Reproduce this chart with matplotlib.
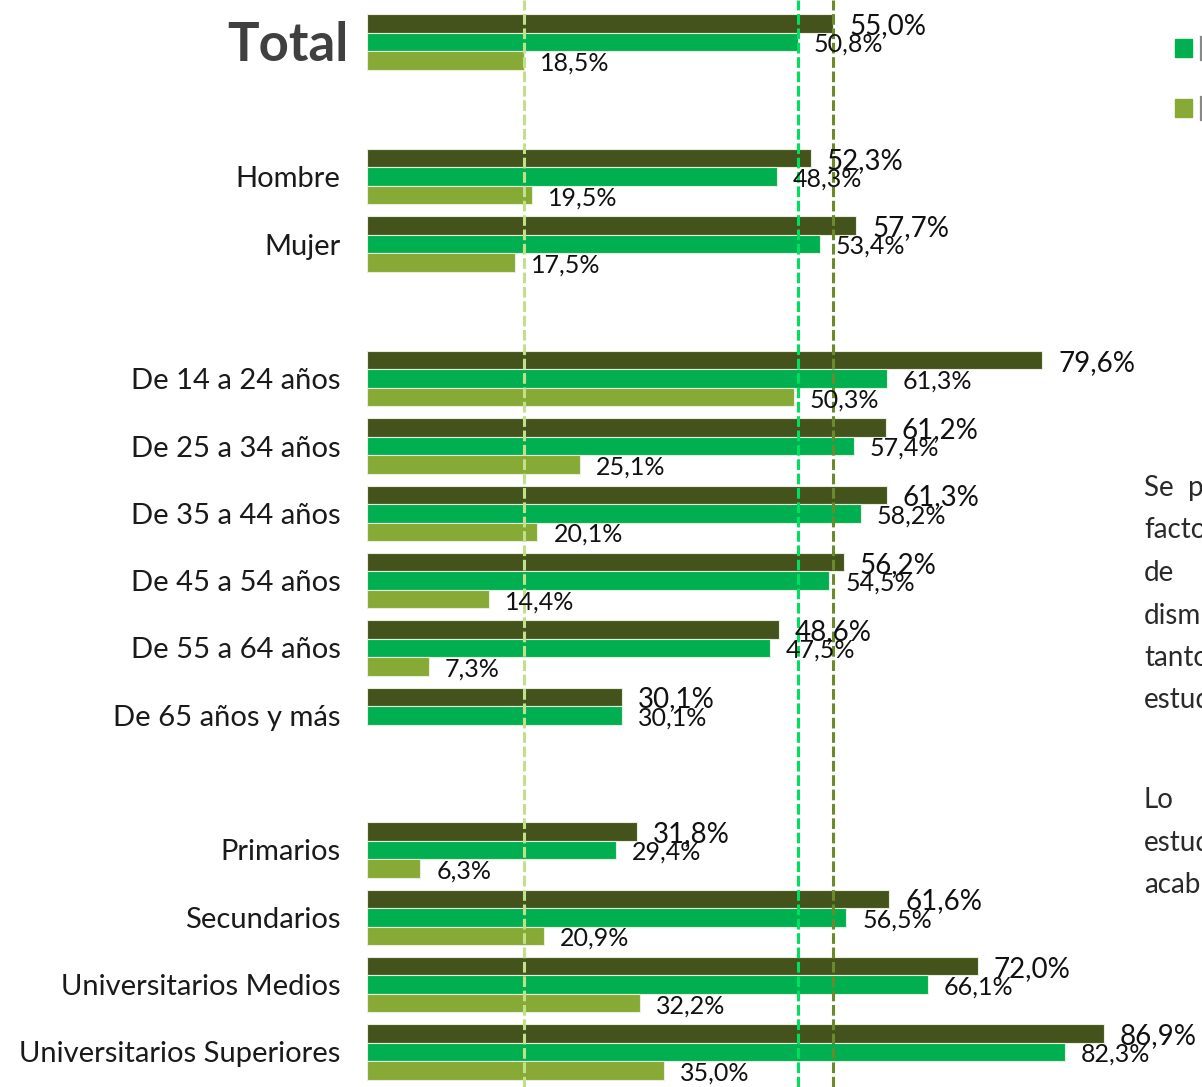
import matplotlib.pyplot as plt
from matplotlib.patches import Rectangle
from matplotlib.lines import Line2D

plt.rcParams['font.family'] = ['Lato', 'DejaVu Sans']

categories = ['Total', 'Hombre', 'Mujer',
              'De 14 a 24 años', 'De 25 a 34 años', 'De 35 a 44 años',
              'De 45 a 54 años', 'De 55 a 64 años', 'De 65 años y más',
              'Primarios', 'Secundarios', 'Universitarios Medios',
              'Universitarios Superiores']
slots = [0, 2, 3, 5, 6, 7, 8, 9, 10, 12, 13, 14, 15]

serie_1 = [55.0, 52.3, 57.7, 79.6, 61.2, 61.3, 56.2, 48.6, 30.1, 31.8, 61.6, 72.0, 86.9]
serie_2 = [50.8, 48.3, 53.4, 61.3, 57.4, 58.2, 54.5, 47.5, 30.1, 29.4, 56.5, 66.1, 82.3]
serie_3 = [18.5, 19.5, 17.5, 50.3, 25.1, 20.1, 14.4, 7.3, None, 6.3, 20.9, 32.2, 35.0]

colores = ['#44531c', '#00b050', '#87a935']
colores_linea = ['#6b8a2b', '#00e060', '#c2df8a']

W, H = 1202, 1087
fig = plt.figure(figsize=(W / 100, H / 100), dpi=100)
ax = fig.add_axes([367 / W, 0, 1 - 367 / W, 1])

h = 0.275
series = [serie_1, serie_2, serie_3]
offsets = [-h, 0, h]
for s, col, off, fs in zip(series, colores, offsets, [20, 18, 18]):
    for y, v in zip(slots, s):
        if v is None:
            continue
        ax.barh(y + off, v, height=h, color=col, edgecolor='#e8eedc', linewidth=0.8, zorder=2)
        ax.annotate(f"{v:.1f}".replace('.', ',') + '%', (v, y + off),
                    xytext=(16, -2.5), textcoords='offset pixels',
                    ha='left', va='center', fontsize=fs, color='#111111', zorder=5)

# lineas de referencia del total
for s, col in zip(series, colores_linea):
    ax.axvline(s[0], color=col, linestyle=(0, (3.5, 1.2)), linewidth=2.2, zorder=3)

ax.set_xlim(0, (W - 367) / 8.48)
ax.set_ylim(15.52, -0.624)
ax.set_xticks([])
ax.set_yticks(slots[1:])
ax.set_yticklabels(categories[1:], fontsize=21, color='#1a1a1a')
ax.tick_params(axis='y', length=0, pad=19)
for sp in ax.spines.values():
    sp.set_visible(False)

ax.text(-2.2, 0.05, 'Total', ha='right', va='center', fontsize=38,
        fontweight='bold', color='#404040')

# leyenda (cortada en el borde)
for yy, col in [(39, colores[1]), (99, colores[2])]:
    fig.patches.append(Rectangle((1175 / W, 1 - (yy + 18) / H), 17 / W, 18 / H,
                                 transform=fig.transFigure, color=col))
    fig.lines.append(Line2D([1200.5 / W] * 2, [1 - (yy - 2) / H, 1 - (yy + 21) / H],
                            transform=fig.transFigure, color='#888888', linewidth=1.6))

# texto lateral (cortado en el borde)
lineas = [('Se  p', 488), ('facto', 530), ('de', 573), ('dism', 616),
          ('tanto', 658), ('estud', 700), ('Lo', 800), ('estud', 843), ('acab', 885)]
for t, yy in lineas:
    fig.text(1144 / W, 1 - yy / H, t, ha='left', va='center', fontsize=20, color='#2a2a2a')

fig.savefig('out.png', dpi=100)
